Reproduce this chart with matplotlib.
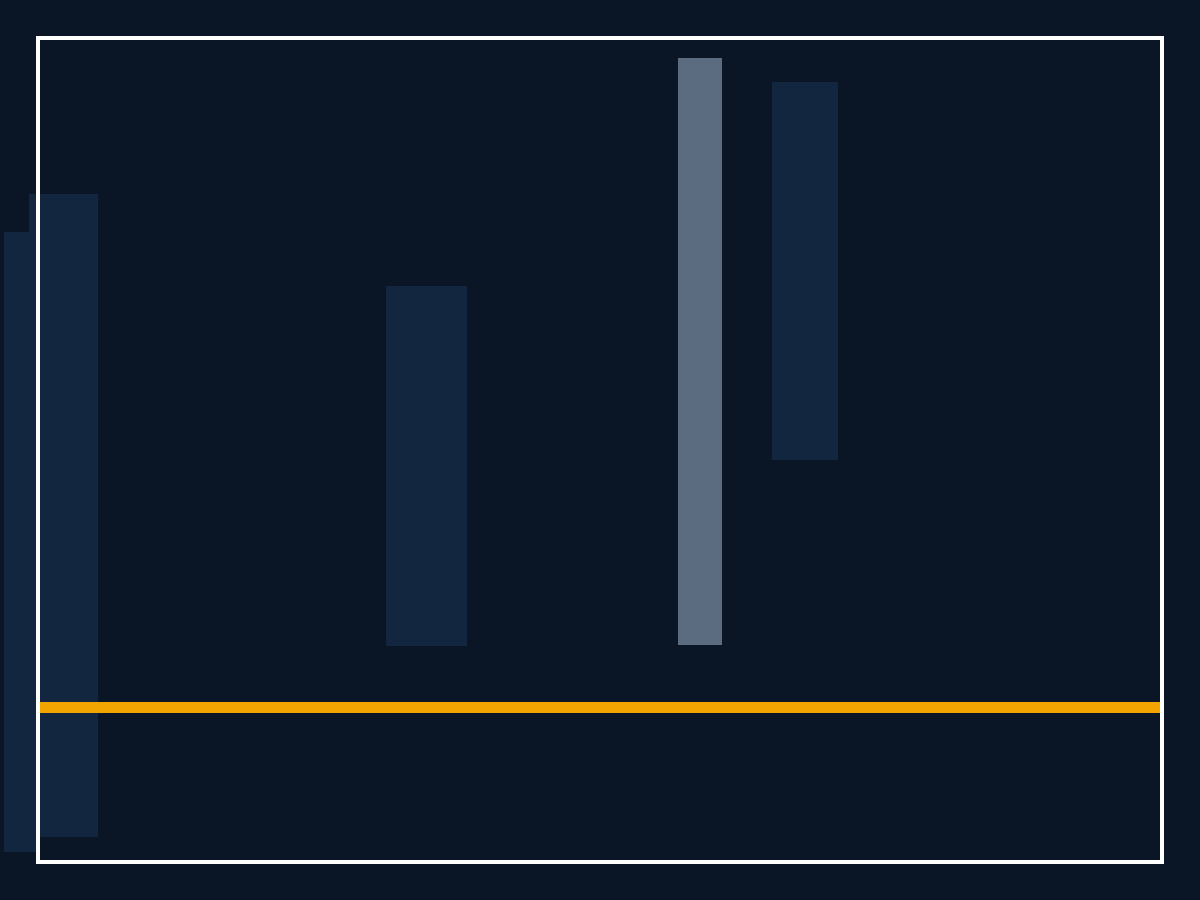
import matplotlib
matplotlib.use("Agg")
import matplotlib.pyplot as plt

# Floating bars: left edge, width, bottom, top (axis units 0-100)
bar_left = [-3.02, -0.80, 30.96, 56.94, 65.30]
bar_width = [3.20, 6.14, 7.21, 3.91, 5.87]
bar_bottom = [1.21, 3.03, 26.21, 26.33, 48.79]
bar_top = [76.46, 81.07, 69.90, 97.57, 94.66]
bar_colors = ["#12263f", "#12263f", "#12263f", "#5b6b80", "#12263f"]
ref_level = 18.87

bg = "#0a1626"
fig = plt.figure(figsize=(12, 9), dpi=100, facecolor=bg)
ax = fig.add_axes([38 / 1200, 38 / 900, 1124 / 1200, 824 / 900])
ax.set_facecolor(bg)
ax.set_xlim(0, 100)
ax.set_ylim(0, 100)

for l, w, b, t, c in zip(bar_left, bar_width, bar_bottom, bar_top, bar_colors):
    ax.bar(l, t - b, width=w, bottom=b, align="edge", color=c,
           linewidth=0, clip_on=False, zorder=1)

ax.axhline(ref_level, color="#f2a500", linewidth=11 * 0.72, zorder=2)

for s in ax.spines.values():
    s.set_color("white")
    s.set_linewidth(4 * 0.72)
    s.set_zorder(3)
ax.set_xticks([])
ax.set_yticks([])

fig.savefig("out.png", dpi=100, facecolor=bg)
